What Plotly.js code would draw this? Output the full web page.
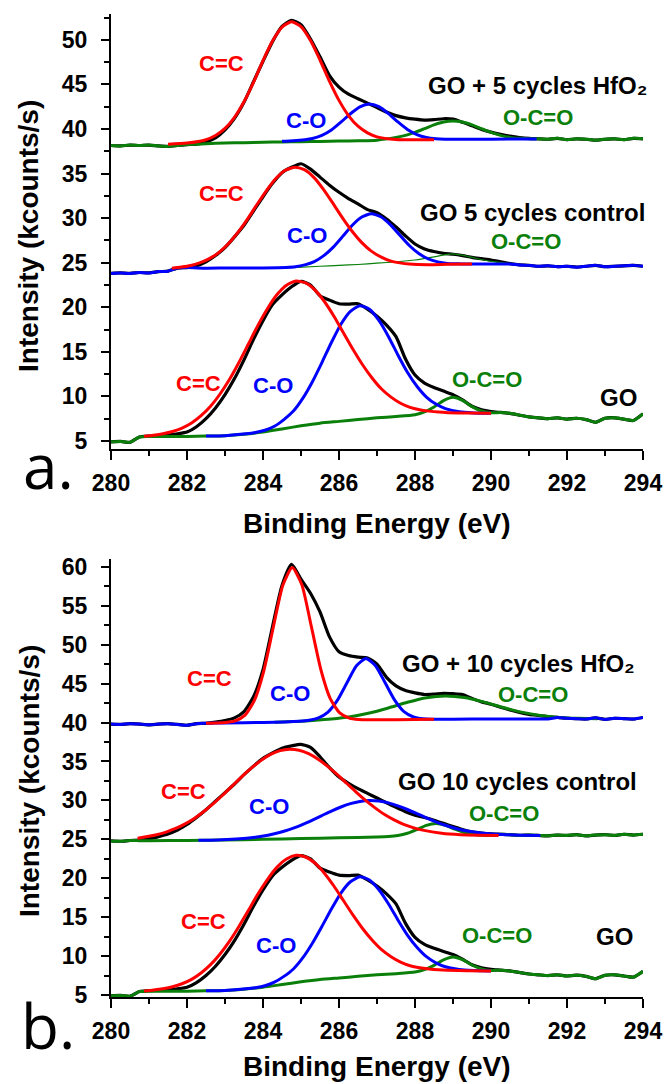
<!DOCTYPE html>
<html><head><meta charset="utf-8">
<script src="https://cdn.plot.ly/plotly-3.0.1.min.js"></script>
<style>html,body{margin:0;padding:0;background:#fff;}#chart{width:667px;height:1084px;}</style>
</head><body><div id="chart"></div>
<script>
// Binding energy grid for measured spectra (eV)
const E_GRID = [280,280.25,280.5,280.75,281,281.25,281.5,281.75,282,282.25,282.5,282.75,283,283.25,283.5,283.75,284,284.25,284.5,284.75,285,285.25,285.5,285.75,286,286.25,286.5,286.75,287,287.25,287.5,287.75,288,288.25,288.5,288.75,289,289.25,289.5,289.75,290,290.25,290.5,290.75,291,291.25,291.5,291.75,292,292.25,292.5,292.75,293,293.25,293.5,293.75,294];

// ---------- Panel a: GO + 5 cycles HfO2 ----------
const A1_DATA = [38.15,38.10,38.20,38.15,38.20,38.10,38.05,38.15,38.25,38.30,38.55,39.00,39.90,41.20,43.00,45.30,47.60,49.80,51.50,52.20,51.70,50.10,48.10,46.00,44.70,43.90,43.40,42.90,42.40,41.90,41.50,41.25,41.10,41.00,41.05,41.15,41.10,40.75,40.35,39.95,39.65,39.40,39.20,39.05,38.95,38.90,38.85,38.95,38.80,38.90,38.85,38.75,38.85,38.90,38.80,38.95,38.90];
const A1_RED_X = [281.5,282,282.5,282.75,283,283.25,283.5,283.75,284,284.25,284.5,284.75,285,285.25,285.5,285.75,286,286.25,286.5,286.75,287,287.5,288,288.5];
const A1_RED_Y = [38.30,38.42,38.80,39.27,40.06,41.31,43.06,45.24,47.67,49.86,51.44,52.02,51.49,49.92,47.74,45.35,43.21,41.51,40.31,39.56,39.12,38.82,38.78,38.80];
const A1_BLUE_X = [284.5,284.8,285.3,285.55,285.8,286.05,286.3,286.55,286.8,287.05,287.3,287.55,287.8,288.05,288.3,288.55,288.8,289.5,290.5,291.2];
const A1_BLUE_Y = [38.62,38.68,38.94,39.29,39.89,40.76,41.71,42.49,42.80,42.50,41.73,40.79,39.95,39.38,39.05,38.90,38.85,38.85,38.87,38.88];
const A1_GREEN_X = [280,280.25,280.5,280.75,281,281.25,281.5,281.75,282,282.25,282.5,283,283.5,284,284.5,285,285.5,286,286.5,287,287.5,287.75,288,288.25,288.5,288.75,289,289.25,289.5,289.75,290,290.25,290.5,290.75,291,291.25,291.5,291.75,292,292.25,292.5,292.75,293,293.25,293.5,293.75,294];
const A1_GREEN_Y = [38.15,38.10,38.20,38.15,38.20,38.10,38.05,38.15,38.25,38.30,38.35,38.42,38.47,38.52,38.55,38.58,38.61,38.64,38.68,38.75,39.06,39.29,39.63,40.04,40.46,40.78,40.90,40.78,40.46,40.04,39.63,39.29,39.06,38.96,38.90,38.90,38.85,38.95,38.80,38.90,38.85,38.75,38.85,38.90,38.80,38.95,38.90];

// ---------- Panel a: GO 5 cycles control ----------
const A2_DATA = [23.80,23.85,23.80,23.90,23.85,24.00,24.05,24.40,24.45,24.65,25.10,25.80,26.70,27.90,29.20,30.80,32.40,33.90,35.10,35.70,36.10,35.50,34.60,33.70,32.90,32.20,31.60,30.95,30.60,29.90,29.00,28.00,27.10,26.55,26.25,26.05,25.95,25.80,25.60,25.45,25.30,25.10,24.90,24.75,24.70,24.60,24.65,24.55,24.60,24.50,24.60,24.70,24.55,24.60,24.65,24.70,24.60];
const A2_RED_X = [281.6,281.85,282.1,282.35,282.6,282.85,283.1,283.35,283.6,283.85,284.1,284.35,284.6,284.85,285.1,285.35,285.6,285.85,286.1,286.35,286.6,286.85,287.1,287.35,287.6,287.85,288.35,288.85,289.5];
const A2_RED_Y = [24.38,24.51,24.69,25.00,25.48,26.19,27.18,28.45,29.94,31.58,33.15,34.50,35.40,35.72,35.41,34.52,33.17,31.60,29.98,28.50,27.25,26.30,25.65,25.20,24.98,24.85,24.78,24.82,24.85];
const A2_BLUE_X = [280,280.25,280.5,280.75,281,281.25,281.5,281.75,282,282.5,283,283.5,284,284.6,284.85,285.1,285.35,285.6,285.85,286.1,286.35,286.6,286.85,287.1,287.35,287.6,287.85,288.1,288.35,288.6,288.85,289.1,289.5,290,290.5,290.75,291,291.25,291.5,291.75,292,292.25,292.5,292.75,293,293.25,293.5,293.75,294];
const A2_BLUE_Y = [23.80,23.85,23.80,23.90,23.85,24.00,24.05,24.40,24.45,24.38,24.40,24.40,24.42,24.47,24.55,24.76,25.13,25.80,26.75,27.96,29.20,30.12,30.50,30.16,29.28,28.09,26.93,26.03,25.42,25.09,24.92,24.88,24.85,24.85,24.85,24.75,24.70,24.60,24.65,24.55,24.60,24.50,24.60,24.70,24.55,24.60,24.65,24.70,24.60];
const A2_GREEN_X = [284.8,285.5,286,286.5,287,287.5,288,288.5,288.8,289,289.3,289.6,290,290.5];
const A2_GREEN_Y = [24.45,24.60,24.70,24.80,24.95,25.10,25.30,25.65,25.90,26.00,25.80,25.50,25.15,24.90];

// ---------- GO reference (bottom of both panels) ----------
const GO_DATA = [4.90,4.95,4.85,5.45,5.55,5.60,5.65,5.80,6.00,6.60,7.50,8.70,10.20,12.00,14.10,16.40,18.50,20.30,21.40,22.30,22.90,22.50,21.30,20.80,20.40,20.35,20.40,19.80,19.00,18.00,16.70,14.20,12.40,11.50,11.00,10.60,10.20,9.60,8.90,8.50,8.30,8.20,8.10,7.90,7.70,7.60,7.50,7.60,7.45,7.55,7.40,7.10,7.55,7.60,7.45,7.30,8.05];
const GO_RED_X = [280.87,281.12,281.37,281.62,281.87,282.12,282.37,282.62,282.87,283.12,283.37,283.62,283.87,284.12,284.37,284.62,284.87,285.12,285.37,285.62,285.87,286.12,286.37,286.62,286.87,287.12,287.37,287.62,287.87,288.12,288.37,288.62,288.87,289.37,290];
const GO_RED_Y = [5.52,5.65,5.82,6.07,6.45,7.02,7.84,8.90,10.27,11.92,13.83,15.91,18.00,19.87,21.43,22.48,22.94,22.73,21.93,20.62,18.97,17.11,15.26,13.55,12.07,10.83,9.92,9.23,8.77,8.51,8.35,8.24,8.18,8.13,8.10];
const GO_BLUE_X = [282.5,283,283.55,283.8,284.05,284.3,284.55,284.8,285.05,285.3,285.55,285.8,286.05,286.3,286.55,286.8,287.05,287.3,287.55,287.8,288.05,288.3,288.55,288.8,289.05,289.3,289.55,290];
const GO_BLUE_Y = [5.55,5.60,5.80,5.95,6.20,6.65,7.40,8.35,9.80,11.65,13.80,16.05,18.10,19.55,20.18,19.78,18.53,16.73,14.65,12.71,11.14,9.93,9.14,8.63,8.37,8.22,8.15,8.10];
const GO_GREEN_X = [280,280.25,280.5,280.75,281,281.5,282,282.5,283,283.5,284,284.5,285,285.5,286,286.5,287,287.5,288,288.25,288.5,288.75,289,289.25,289.5,289.75,290,290.25,290.5,290.75,291,291.25,291.5,291.75,292,292.25,292.5,292.75,293,293.25,293.5,293.75,294];
const GO_GREEN_Y = [4.90,4.95,4.85,5.45,5.50,5.50,5.50,5.55,5.60,5.75,6.00,6.35,6.70,7.00,7.20,7.40,7.60,7.75,7.95,8.26,8.81,9.53,9.90,9.55,8.86,8.36,8.16,8.20,8.10,7.90,7.70,7.60,7.50,7.60,7.45,7.55,7.40,7.10,7.55,7.60,7.45,7.30,8.05];

// ---------- Panel b: GO + 10 cycles HfO2 ----------
const B1_DATA = [39.80,39.75,39.85,39.80,39.70,39.80,39.85,39.75,39.65,39.85,39.90,40.05,40.25,40.60,41.40,43.30,46.80,52.30,57.60,60.30,58.40,56.60,54.20,51.00,49.10,48.60,48.40,48.30,47.50,45.80,44.70,44.10,43.80,43.60,43.65,43.75,43.70,43.60,43.10,42.65,42.35,41.95,41.60,41.30,41.05,40.90,40.75,40.65,40.55,40.50,40.45,40.60,40.40,40.55,40.50,40.45,40.65];
const B1_RED_X = [282.5,282.77,283.02,283.27,283.52,283.77,284.02,284.27,284.52,284.77,285.02,285.27,285.52,285.77,286.02,286.27,286.52,286.77,287.5,288.5];
const B1_RED_Y = [39.92,39.95,40.01,40.21,40.91,42.80,46.61,52.20,57.61,59.90,57.72,52.37,46.84,43.07,41.23,40.56,40.38,40.34,40.37,40.42];
const B1_BLUE_X = [280,280.25,280.5,280.75,281,281.25,281.5,281.75,282,282.25,282.5,283,284,284.96,285.21,285.46,285.71,285.96,286.21,286.46,286.71,286.96,287.21,287.46,287.71,287.96,288.21,288.46,289,290,290.5,291,291.5,291.75,292,292.25,292.5,292.75,293,293.25,293.5,293.75,294];
const B1_BLUE_Y = [39.80,39.75,39.85,39.80,39.70,39.80,39.85,39.75,39.65,39.85,39.90,39.95,40.00,40.17,40.29,40.60,41.34,42.87,45.11,47.29,48.23,47.30,45.14,42.91,41.40,40.71,40.47,40.42,40.43,40.45,40.45,40.45,40.45,40.65,40.55,40.50,40.45,40.60,40.40,40.55,40.50,40.45,40.65];
const B1_GREEN_X = [284.3,284.8,285.3,285.8,286.3,286.8,287.3,287.8,288.3,288.8,289.3,289.8,290.3,290.8,291.3,291.8,292.3,292.8];
const B1_GREEN_Y = [40.05,40.12,40.27,40.46,40.75,41.22,41.87,42.60,43.19,43.42,43.21,42.65,41.96,41.33,40.90,40.66,40.55,40.50];

// ---------- Panel b: GO 10 cycles control ----------
const B2_DATA = [24.80,24.75,24.85,24.90,25.05,25.35,25.70,26.20,26.90,27.80,28.80,29.90,31.00,32.10,33.30,34.40,35.40,36.10,36.70,37.00,37.20,36.80,35.60,34.20,33.00,32.20,31.50,30.90,30.30,29.70,29.10,28.55,28.10,27.80,27.45,27.05,26.65,26.25,25.95,25.80,25.70,25.65,25.60,25.50,25.55,25.50,25.45,25.55,25.50,25.60,25.45,25.55,25.60,25.50,25.65,25.55,25.65];
const B2_RED_X = [280.7,281.2,281.45,281.7,281.95,282.2,282.45,282.7,282.95,283.2,283.45,283.7,283.95,284.2,284.45,284.7,284.95,285.2,285.45,285.7,285.95,286.2,286.45,286.7,286.95,287.2,287.45,287.7,287.95,288.2,288.7,289.2,289.7,290.2];
const B2_RED_Y = [25.13,25.58,25.93,26.39,26.99,27.72,28.61,29.61,30.72,31.90,33.08,34.17,35.14,35.90,36.39,36.57,36.44,36.00,35.29,34.37,33.33,32.20,31.07,30.00,29.04,28.18,27.49,26.92,26.50,26.18,25.77,25.59,25.53,25.50];
const B2_BLUE_X = [282.3,282.8,283.3,283.8,284.05,284.3,284.55,284.8,285.05,285.3,285.55,285.8,286.05,286.3,286.55,286.8,287.05,287.3,287.55,287.8,288.05,288.3,288.55,288.8,289.05,289.3,289.55,289.8,290.3,290.8,291.3];
const B2_BLUE_Y = [24.87,24.91,25.04,25.27,25.45,25.71,26.03,26.44,26.92,27.47,28.05,28.63,29.15,29.58,29.86,29.98,29.91,29.68,29.30,28.83,28.30,27.76,27.25,26.80,26.43,26.14,25.93,25.78,25.61,25.53,25.50];
const B2_GREEN_X = [280,280.25,280.5,280.75,281,282,283,284,285,286,287,287.3,287.55,287.8,288.05,288.3,288.55,288.8,289.05,289.3,289.55,289.8,290,290.25,290.5,290.75,291,291.25,291.5,291.75,292,292.25,292.5,292.75,293,293.25,293.5,293.75,294];
const B2_GREEN_Y = [24.80,24.75,24.85,24.82,24.82,24.85,24.90,25.00,25.10,25.20,25.30,25.36,25.49,25.78,26.26,26.79,27.03,26.81,26.30,25.86,25.62,25.52,25.50,25.65,25.60,25.50,25.55,25.50,25.45,25.55,25.50,25.60,25.45,25.55,25.60,25.50,25.65,25.55,25.65];

// Labels
const X_TICK_LABELS = ['280','282','284','286','288','290','292','294'];
const X_TICK_VALUES = [280,282,284,286,288,290,292,294];

const FONT = 'Liberation Sans, Arial, Helvetica, sans-serif';
const RED = '#ff0000', BLUE = '#0000ff', GREEN = '#0a800a', BLACK = '#000000';

function tr(x, y, color, width, xa, ya) {
  return {x: x, y: y, type: 'scatter', mode: 'lines',
    line: {color: color, width: width, shape: 'spline', smoothing: 0.6},
    xaxis: xa, yaxis: ya, hoverinfo: 'skip', showlegend: false};
}

const traces = [
  // panel a
  tr(E_GRID, A1_DATA, BLACK, 3.2, 'x', 'y'),
  tr(A1_GREEN_X, A1_GREEN_Y, GREEN, 3, 'x', 'y'),
  tr(A1_BLUE_X, A1_BLUE_Y, BLUE, 3, 'x', 'y'),
  tr(A1_RED_X, A1_RED_Y, RED, 3, 'x', 'y'),
  tr(E_GRID, A2_DATA, BLACK, 3.2, 'x', 'y'),
  tr(A2_GREEN_X, A2_GREEN_Y, GREEN, 1.2, 'x', 'y'),
  tr(A2_BLUE_X, A2_BLUE_Y, BLUE, 3, 'x', 'y'),
  tr(A2_RED_X, A2_RED_Y, RED, 3, 'x', 'y'),
  tr(E_GRID, GO_DATA, BLACK, 3.2, 'x', 'y'),
  tr(GO_GREEN_X, GO_GREEN_Y, GREEN, 3, 'x', 'y'),
  tr(GO_BLUE_X, GO_BLUE_Y, BLUE, 3, 'x', 'y'),
  tr(GO_RED_X, GO_RED_Y, RED, 3, 'x', 'y'),
  // panel b
  tr(E_GRID, B1_DATA, BLACK, 3.2, 'x2', 'y2'),
  tr(B1_GREEN_X, B1_GREEN_Y, GREEN, 3, 'x2', 'y2'),
  tr(B1_BLUE_X, B1_BLUE_Y, BLUE, 3, 'x2', 'y2'),
  tr(B1_RED_X, B1_RED_Y, RED, 3, 'x2', 'y2'),
  tr(E_GRID, B2_DATA, BLACK, 3.2, 'x2', 'y2'),
  tr(B2_GREEN_X, B2_GREEN_Y, GREEN, 3, 'x2', 'y2'),
  tr(B2_BLUE_X, B2_BLUE_Y, BLUE, 3, 'x2', 'y2'),
  tr(B2_RED_X, B2_RED_Y, RED, 3, 'x2', 'y2'),
  tr(E_GRID, GO_DATA, BLACK, 3.2, 'x2', 'y2'),
  tr(GO_GREEN_X, GO_GREEN_Y, GREEN, 3, 'x2', 'y2'),
  tr(GO_BLUE_X, GO_BLUE_Y, BLUE, 3, 'x2', 'y2'),
  tr(GO_RED_X, GO_RED_Y, RED, 3, 'x2', 'y2')
];

function lab(text, x, y, color, size, xr, yr, xanchor, xshift) {
  return {text: text, x: x, y: y, xref: xr, yref: yr, showarrow: false,
    xanchor: xanchor || 'center', yanchor: 'middle', xshift: xshift || 0,
    font: {family: FONT, size: size, color: color, weight: 'bold'}};
}

const annotations = [
  // panel a, top
  lab('C=C', 282.92, 47.4, RED, 22, 'x', 'y'),
  lab('C-O', 285.12, 41.0, BLUE, 22, 'x', 'y'),
  lab('O-C=O', 291.24, 41.3, GREEN, 22, 'x', 'y'),
  lab('GO + 5 cycles HfO\u2082', 294, 44.9, BLACK, 24, 'x', 'y', 'right', 6),
  // panel a, middle
  lab('C=C', 282.9, 32.8, RED, 22, 'x', 'y'),
  lab('C-O', 285.17, 28.1, BLUE, 22, 'x', 'y'),
  lab('GO 5 cycles control', 294, 30.64, BLACK, 24, 'x', 'y', 'right', 4),
  lab('O-C=O', 290.93, 27.34, GREEN, 22, 'x', 'y'),
  // panel a, bottom
  lab('C=C', 282.31, 11.47, RED, 22, 'x', 'y'),
  lab('C-O', 284.25, 11.2, BLUE, 22, 'x', 'y'),
  lab('O-C=O', 289.89, 11.95, GREEN, 22, 'x', 'y'),
  lab('GO', 293.35, 9.9, BLACK, 24, 'x', 'y'),
  // panel b, top
  lab('C=C', 282.58, 45.65, RED, 22, 'x2', 'y2'),
  lab('C-O', 284.71, 43.73, BLUE, 22, 'x2', 'y2'),
  lab('GO + 10 cycles HfO\u2082', 293.85, 47.6, BLACK, 24, 'x2', 'y2', 'right'),
  lab('O-C=O', 291.1, 43.64, GREEN, 22, 'x2', 'y2'),
  // panel b, middle
  lab('C=C', 281.9, 31.1, RED, 22, 'x2', 'y2'),
  lab('C-O', 284.15, 29.2, BLUE, 22, 'x2', 'y2'),
  lab('GO 10 cycles control', 293.9, 32.4, BLACK, 24, 'x2', 'y2', 'right'),
  lab('O-C=O', 290.33, 28.3, GREEN, 22, 'x2', 'y2'),
  // panel b, bottom
  lab('C=C', 282.43, 14.42, RED, 22, 'x2', 'y2'),
  lab('C-O', 284.33, 11.42, BLUE, 22, 'x2', 'y2'),
  lab('O-C=O', 290.16, 12.71, GREEN, 22, 'x2', 'y2'),
  lab('GO', 293.24, 12.5, BLACK, 24, 'x2', 'y2'),
  // axis titles
  lab('Binding Energy (eV)', 0.5652, 0.5175, BLACK, 28, 'paper', 'paper'),
  lab('Binding Energy (eV)', 0.5652, 0.0166, BLACK, 28, 'paper', 'paper'),
  Object.assign(lab('Intensity (kcounts/s)', 0.0435, 0.7823, BLACK, 28, 'paper', 'paper'), {textangle: -90}),
  Object.assign(lab('Intensity (kcounts/s)', 0.0435, 0.2795, BLACK, 28, 'paper', 'paper'), {textangle: -90}),
  // panel letters
  {text: 'a.', x: 0.072, y: 0.571, xref: 'paper', yref: 'paper', showarrow: false, xanchor: 'center', yanchor: 'middle',
   font: {family: 'Open Sans, Liberation Sans, sans-serif', size: 62, color: BLACK}},
  {text: 'b.', x: 0.072, y: 0.0544, xref: 'paper', yref: 'paper', showarrow: false, xanchor: 'center', yanchor: 'middle',
   font: {family: 'Open Sans, Liberation Sans, sans-serif', size: 62, color: BLACK}}
];

const tickFont = {family: FONT, size: 23, color: BLACK, weight: 'bold'};
function xAx(anchor, domain) {
  return {domain: domain, anchor: anchor, range: [280, 294], tickmode: 'array',
    tickvals: X_TICK_VALUES, ticktext: X_TICK_LABELS,
    showline: true, linecolor: BLACK, linewidth: 2, ticks: 'outside', ticklen: 9, tickwidth: 2,
    tickcolor: BLACK, showgrid: false, zeroline: false, tickfont: tickFont, ticklabelstandoff: 3,
    minor: {dtick: 1, tick0: 280, ticks: 'outside', ticklen: 5, tickwidth: 2, tickcolor: BLACK, showgrid: false},
    fixedrange: true};
}
function yAx(anchor, domain, range) {
  return {domain: domain, anchor: anchor, range: range, tick0: 0, dtick: 5,
    showline: true, linecolor: BLACK, linewidth: 2, ticks: 'outside', ticklen: 8, tickwidth: 2,
    tickcolor: BLACK, showgrid: false, zeroline: false, tickfont: tickFont, ticklabelstandoff: 9,
    minor: {dtick: 2.5, tick0: 0, ticks: 'outside', ticklen: 5, tickwidth: 2, tickcolor: BLACK, showgrid: false},
    fixedrange: true};
}

const layout = {
  width: 667, height: 1084,
  margin: {l: 0, r: 0, t: 0, b: 0},
  paper_bgcolor: '#ffffff', plot_bgcolor: '#ffffff',
  showlegend: false,
  xaxis: xAx('y', [0.16642, 0.96402]),
  yaxis: yAx('x', [0.58579, 0.98708], [4.1, 52.9]),
  xaxis2: xAx('y2', [0.16642, 0.96402]),
  yaxis2: yAx('x2', [0.08026, 0.48432], [4.75, 61]),
  annotations: annotations
};

Plotly.newPlot('chart', traces, layout, {staticPlot: true, displayModeBar: false});
</script>
</body></html>
